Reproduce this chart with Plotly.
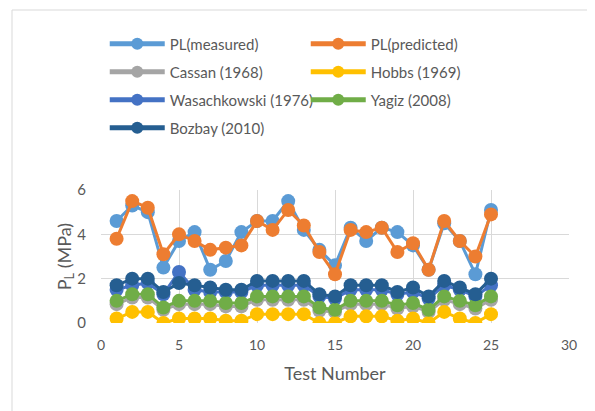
import plotly.graph_objects as go

# test numbers 1..25
test_no = list(range(1, 26))

pl_measured = [4.6, 5.3, 5.0, 2.5, 3.7, 4.1, 2.4, 2.8, 4.1, 4.6, 4.6, 5.5, 4.2, 3.3, 2.6,
               4.3, 3.7, 4.3, 4.1, 3.5, 2.4, 4.5, 3.7, 2.2, 5.1]
pl_predicted = [3.8, 5.5, 5.2, 3.1, 4.0, 3.7, 3.3, 3.4, 3.5, 4.6, 4.2, 5.1, 4.4, 3.2, 2.2,
                4.2, 4.1, 4.3, 3.2, 3.6, 2.4, 4.6, 3.7, 3.0, 4.9]
cassan = [0.85, 1.15, 1.15, 0.6, 0.85, 0.85, 0.85, 0.75, 0.75, 1.05, 1.05, 1.05, 1.05, 0.55, 0.5,
          0.85, 0.85, 0.85, 0.65, 0.75, 0.5, 1.05, 0.85, 0.65, 1.05]
hobbs = [0.2, 0.5, 0.5, 0.0, 0.2, 0.2, 0.2, 0.1, 0.1, 0.4, 0.4, 0.4, 0.4, 0.0, 0.0,
         0.3, 0.3, 0.3, 0.1, 0.2, 0.0, 0.5, 0.2, 0.0, 0.4]
wasach = [1.5, 1.7, 1.8, 1.3, 2.3, 1.5, 1.4, 1.4, 1.4, 1.7, 1.7, 1.7, 1.7, 1.2, 1.1,
          1.5, 1.5, 1.5, 1.3, 1.4, 1.1, 1.7, 1.5, 1.2, 1.7]
yagiz = [1.0, 1.3, 1.3, 0.7, 1.0, 1.0, 1.0, 0.9, 0.9, 1.2, 1.2, 1.2, 1.2, 0.7, 0.6,
         1.0, 1.0, 1.0, 0.8, 0.9, 0.6, 1.2, 1.0, 0.8, 1.2]
bozbay = [1.7, 2.0, 2.0, 1.4, 1.8, 1.7, 1.6, 1.5, 1.5, 1.9, 1.9, 1.9, 1.9, 1.3, 1.2,
          1.7, 1.7, 1.7, 1.4, 1.6, 1.2, 1.9, 1.6, 1.3, 2.0]

series = [
    ("PL(measured)", pl_measured, "#5B9BD5", "legend"),
    ("PL(predicted)", pl_predicted, "#ED7D31", "legend"),
    ("Cassan (1968)", cassan, "#A5A5A5", "legend2"),
    ("Hobbs (1969)", hobbs, "#FFC000", "legend2"),
    ("Wasachkowski (1976)", wasach, "#4472C4", "legend3"),
    ("Yagiz (2008)", yagiz, "#70AD47", "legend3"),
    ("Bozbay (2010)", bozbay, "#255E91", "legend4"),
]

fig = go.Figure()
for name, vals, col, lg in series:
    fig.add_trace(go.Scatter(
        x=test_no, y=vals, name=name, mode="lines+markers",
        line=dict(color=col, width=3),
        marker=dict(color=col, size=14),
        legend=lg,
    ))

grey = "#595959"
font = dict(family="Lato, Open Sans, sans-serif", size=15, color=grey)

def leg(y):
    return dict(orientation="h", x=0.008, y=y, xanchor="left", yanchor="middle",
                entrywidth=131, itemwidth=55, itemsizing="constant", font=font,
                bgcolor="rgba(0,0,0,0)")

# page body has an 8px margin, so the margins are shifted by that much
fig.update_layout(
    width=595, height=411,
    margin=dict(l=93, r=34, t=182, b=96, autoexpand=False),
    paper_bgcolor="white", plot_bgcolor="white",
    font=font,
    showlegend=True,
    legend=leg((323 - 44) / 133),
    legend2=leg((323 - 72) / 133),
    legend3=leg((323 - 100) / 133),
    legend4=leg((323 - 128) / 133),
    xaxis=dict(range=[0, 30], dtick=5, showgrid=True, gridcolor="#D9D9D9",
               zeroline=False, ticks="", ticklabelstandoff=12,
               title=dict(text="Test Number", font=dict(size=18, color=grey), standoff=15),
               tickfont=dict(size=14, color=grey)),
    yaxis=dict(range=[0, 6], dtick=2, showgrid=True, gridcolor="#D9D9D9",
               zeroline=False, ticks="", ticklabelstandoff=14,
               title=dict(text="P<sub>L</sub> (MPa)", font=dict(size=18, color=grey), standoff=0),
               tickfont=dict(size=15, color=grey)),
    shapes=[
        dict(type="line", xref="paper", yref="paper",
             x0=-89 / 468, x1=-89 / 468, y0=-95 / 133, y1=1 + 180 / 133,
             line=dict(color="#D9D9D9", width=1)),
        dict(type="line", xref="paper", yref="paper",
             x0=-89 / 468, x1=1 + 30 / 468, y0=1 + 180 / 133, y1=1 + 180 / 133,
             line=dict(color="#D9D9D9", width=1)),
    ],
)

fig.write_html("out.html")
